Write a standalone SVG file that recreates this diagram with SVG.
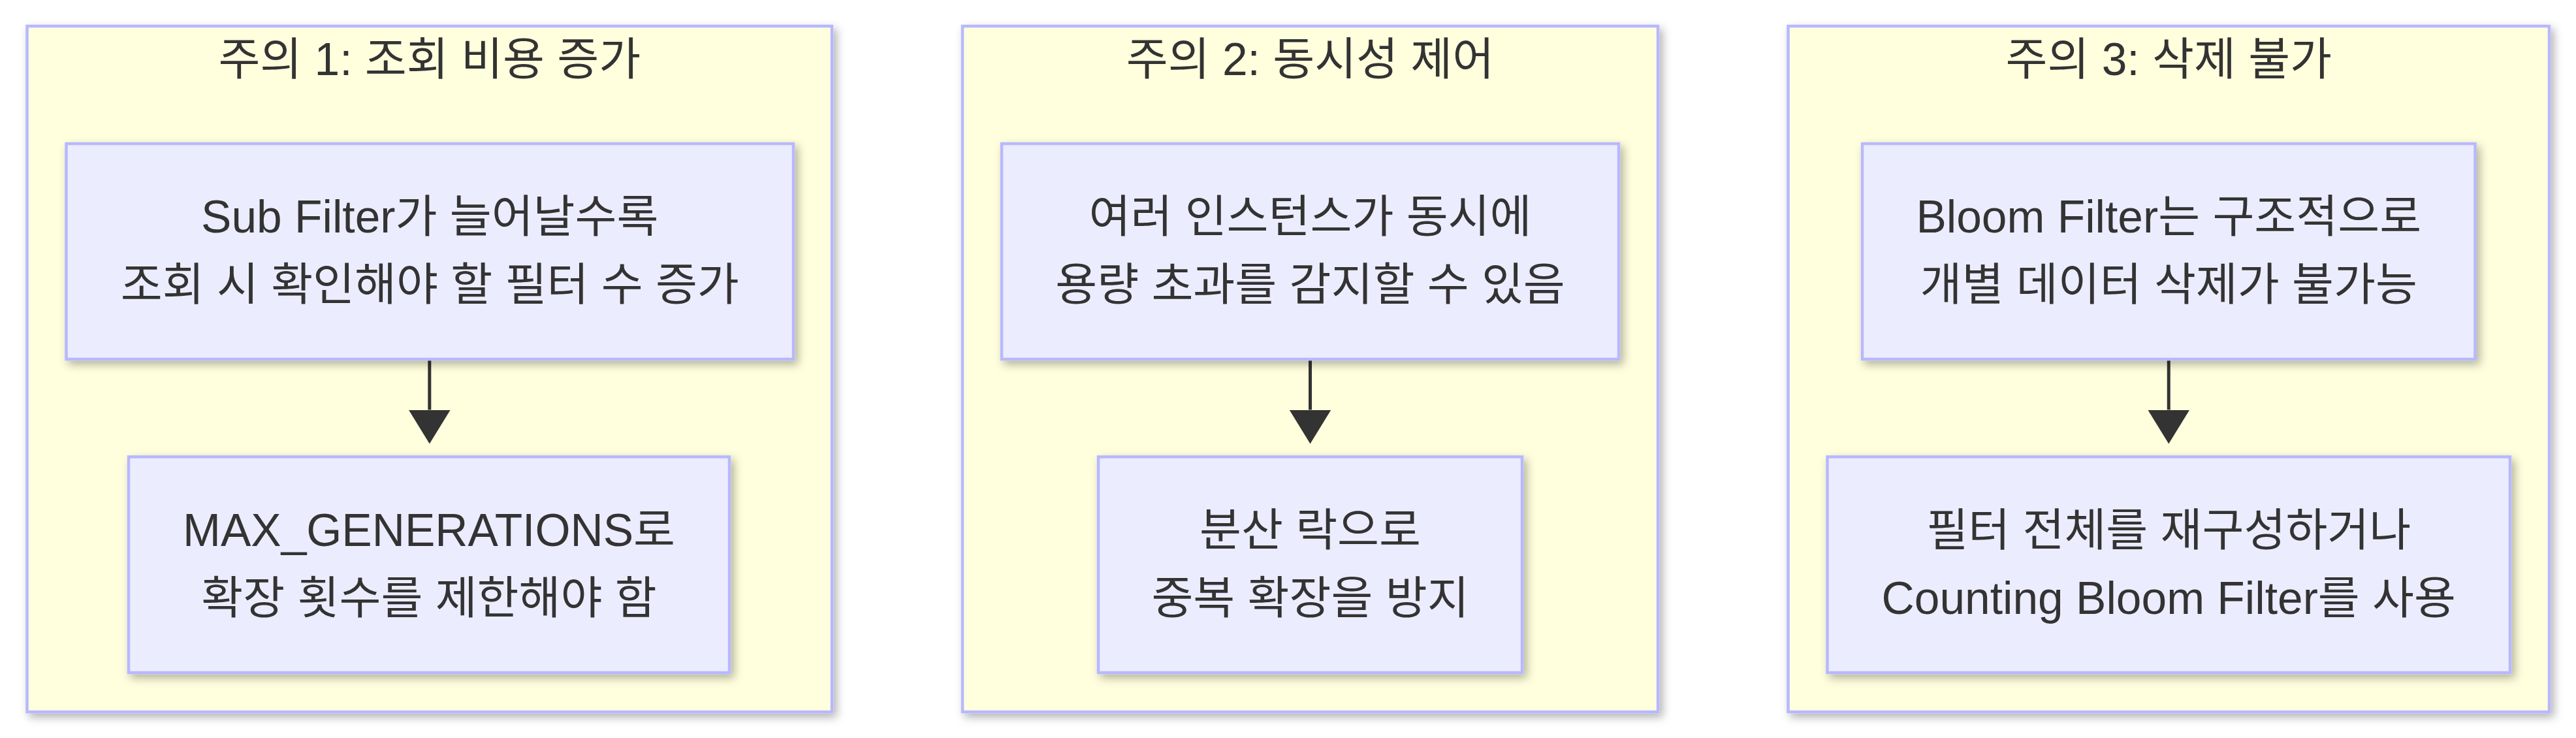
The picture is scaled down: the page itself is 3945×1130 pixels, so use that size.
<svg xmlns="http://www.w3.org/2000/svg" width="3945" height="1130" viewBox="0 0 3945 1130">
<defs>
<filter id="shadow" x="-10%" y="-10%" width="120%" height="120%">
<feDropShadow dx="5" dy="6" stdDeviation="7" flood-color="#000" flood-opacity="0.3"/>
</filter>
<marker id="arrow" viewBox="0 0 52 64" refX="0" refY="32" markerWidth="52" markerHeight="64" markerUnits="userSpaceOnUse" orient="auto">
<path d="M0,0 L52,32 L0,64 Z" fill="#333333"/>
</marker>
</defs>
<style>
.cluster rect{fill:#ffffde;stroke:#b8b8ff;stroke-width:4.5;filter:url(#shadow);}
.node rect{fill:#ececff;stroke:#b8b8ff;stroke-width:4.5;filter:url(#shadow);}
text{font-family:"Liberation Sans",Arial,"Noto Sans CJK KR",sans-serif;font-size:69.5px;fill:#333333;text-anchor:middle;}
.edge{stroke:#333333;stroke-width:5;fill:none;}
</style>
<rect width="3945" height="1130" fill="#ffffff"/>

<g id="cluster1" class="cluster">
<rect x="41.5" y="40" width="1232.5" height="1050"/>
<text x="657.75" y="115">주의 1: 조회 비용 증가</text>
</g>
<g id="cluster2" class="cluster">
<rect x="1474" y="40" width="1065" height="1050"/>
<text x="2006.5" y="115">주의 2: 동시성 제어</text>
</g>
<g id="cluster3" class="cluster">
<rect x="2738.5" y="40" width="1165.5" height="1050"/>
<text x="3321.25" y="115">주의 3: 삭제 불가</text>
</g>

<g id="connectors">
<path class="edge" d="M657.8,550 L657.8,627.5" marker-end="url(#arrow)"/>
<path class="edge" d="M2006.5,550 L2006.5,627.5" marker-end="url(#arrow)"/>
<path class="edge" d="M3321.25,550 L3321.25,627.5" marker-end="url(#arrow)"/>
</g>

<g id="A1" class="node">
<rect x="101.5" y="220" width="1113.5" height="330"/>
<text x="658.25" y="356">Sub Filter가 늘어날수록</text>
<text x="658.25" y="460">조회 시 확인해야 할 필터 수 증가</text>
</g>
<g id="B1" class="node">
<rect x="197" y="699.5" width="920" height="330.5"/>
<text x="657" y="835.7">MAX_GENERATIONS로</text>
<text x="657" y="939.7">확장 횟수를 제한해야 함</text>
</g>

<g id="A2" class="node">
<rect x="1534" y="220" width="945" height="330"/>
<text x="2006.5" y="356">여러 인스턴스가 동시에</text>
<text x="2006.5" y="460">용량 초과를 감지할 수 있음</text>
</g>
<g id="B2" class="node">
<rect x="1682" y="699.5" width="649" height="330.5"/>
<text x="2006.5" y="835.7">분산 락으로</text>
<text x="2006.5" y="939.7">중복 확장을 방지</text>
</g>

<g id="A3" class="node">
<rect x="2852" y="220" width="938.5" height="330"/>
<text x="3321.25" y="356">Bloom Filter는 구조적으로</text>
<text x="3321.25" y="460">개별 데이터 삭제가 불가능</text>
</g>
<g id="B3" class="node">
<rect x="2798.5" y="699.5" width="1045.5" height="330.5"/>
<text x="3321.25" y="835.7">필터 전체를 재구성하거나</text>
<text x="3321.25" y="939.7">Counting Bloom Filter를 사용</text>
</g>
</svg>
